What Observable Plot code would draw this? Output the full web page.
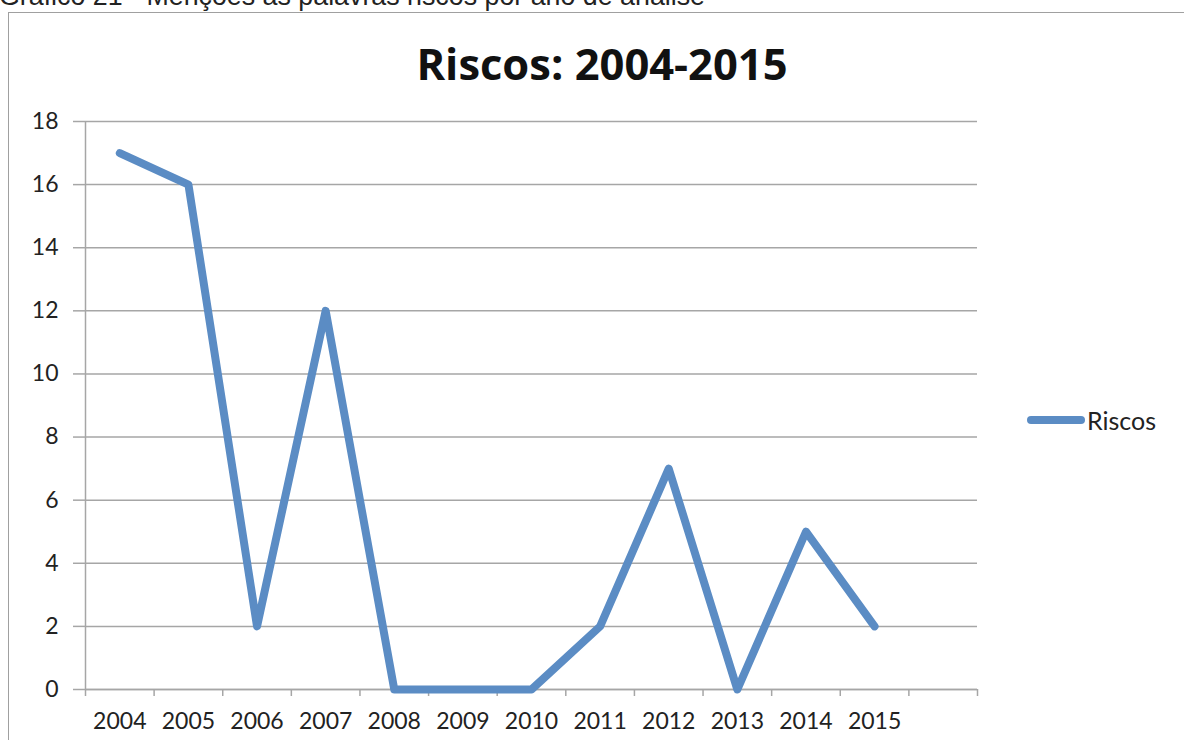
<!DOCTYPE html>
<html>
<head>
<meta charset="utf-8">
<script src="https://cdn.jsdelivr.net/npm/d3@7"></script>
<script src="https://cdn.jsdelivr.net/npm/@observablehq/plot@0.6"></script>
<style>
  html, body { margin: 0; padding: 0; background: #fff; }
  body { width: 1184px; height: 740px; position: relative; overflow: hidden; }
  #caption { position: absolute; left: -1px; top: -19px; font-family: "Liberation Sans", Arial, sans-serif; font-size: 26.8px; color: #222; white-space: nowrap; }
  #frame { position: absolute; left: 8px; top: 12px; width: 1200px; height: 760px; border: 1.5px solid #a0a0a0; box-sizing: border-box; }
  #title { position: absolute; left: 0; width: 1204px; top: 36px; text-align: center; font-family: "Open Sans", sans-serif; font-weight: 700; font-size: 43.5px; line-height: 56px; color: #111; }
  #legend { position: absolute; left: 1027px; top: 405px; display: flex; align-items: center; font-family: Lato, sans-serif; font-size: 25px; color: #222; }
  #legend .sw { width: 58px; height: 8px; border-radius: 4px; background: #5b8cc4; margin-right: 2px; }
  #chart { position: absolute; left: 0; top: 0; }
</style>
</head>
<body>
<div id="caption">Gráfico 21 - Menções às palavras riscos por ano de análise</div>
<div id="frame"></div>
<div id="title">Riscos: 2004-2015</div>
<div id="chart"></div>
<div id="legend"><div class="sw"></div><span>Riscos</span></div>
<script>
const years = ["2004","2005","2006","2007","2008","2009","2010","2011","2012","2013","2014","2015"];
const riscos = [17, 16, 2, 12, 0, 0, 0, 2, 7, 0, 5, 2];
const yTicks = [0, 2, 4, 6, 8, 10, 12, 14, 16, 18];

const data = years.map((y, i) => ({i, year: y, value: riscos[i]}));
const slots = years.length + 1; // one empty category slot at the end
const edges = d3.range(slots + 1).map(k => k - 0.5);
const gray = "#a6a6a6";

const chart = Plot.plot({
  width: 1184,
  height: 740,
  marginLeft: 85,
  marginRight: 207,
  marginTop: 121,
  marginBottom: 51,
  style: {background: "transparent", fontFamily: "Lato, sans-serif", fontSize: "23px", color: "#222"},
  x: {type: "linear", domain: [-0.5, slots - 0.5], axis: null},
  y: {domain: [0, 18], axis: null},
  marks: [
    Plot.gridY(yTicks, {stroke: gray, strokeOpacity: 1, strokeWidth: 1.5}),
    Plot.axisY(yTicks, {label: null, tickSize: 12, tickPadding: 15, stroke: gray, strokeWidth: 1.5, fill: "#222", fontSize: 23}),
    Plot.ruleX([-0.5], {stroke: gray, strokeWidth: 1.5}),
    Plot.ruleY([0], {stroke: gray, strokeWidth: 1.5}),
    Plot.axisX(edges, {label: null, tickSize: 7, tickFormat: () => "", stroke: gray, strokeWidth: 1.5}),
    Plot.axisX(d3.range(years.length), {label: null, tickSize: 0, tickPadding: 23, tickFormat: i => years[i], fill: "#222", fontSize: 23}),
    Plot.line(data, {x: "i", y: "value", stroke: "#5b8cc4", strokeWidth: 8, strokeLinecap: "round", strokeLinejoin: "round"})
  ]
});
document.getElementById("chart").appendChild(chart);
</script>
</body>
</html>
